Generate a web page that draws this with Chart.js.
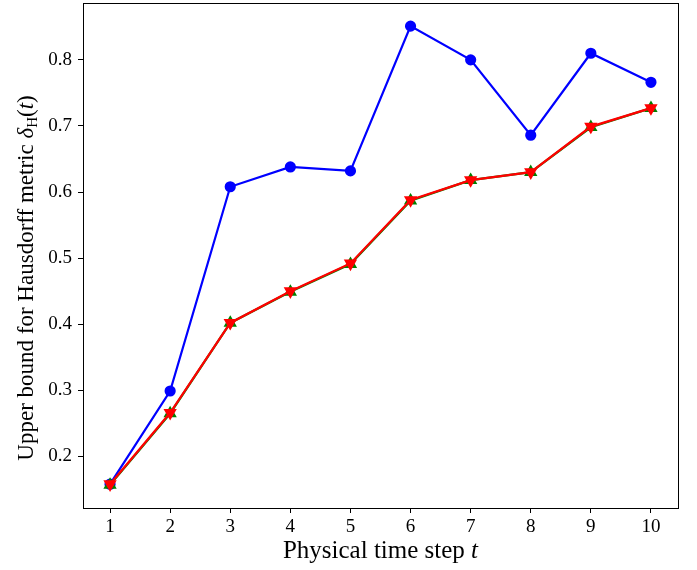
<!DOCTYPE html>
<html>
<head>
<meta charset="utf-8">
<script src="https://cdn.jsdelivr.net/npm/chart.js@4/dist/chart.umd.min.js"></script>
<style>
  html, body { margin: 0; padding: 0; background: #fff; }
  #wrap { width: 697px; height: 570px; }
</style>
</head>
<body>
<div id="wrap"><canvas id="chart"></canvas></div>
<script>
// ---- data ----
const steps = [1, 2, 3, 4, 5, 6, 7, 8, 9, 10];
const blueVals  = [0.158, 0.299, 0.608, 0.638, 0.632, 0.851, 0.800, 0.686, 0.810, 0.766];
const greenVals = [0.157, 0.265, 0.402, 0.449, 0.491, 0.587, 0.618, 0.630, 0.698, 0.727];
const redVals   = [0.158, 0.266, 0.402, 0.450, 0.492, 0.588, 0.618, 0.630, 0.699, 0.727];
const xTicks = [1, 2, 3, 4, 5, 6, 7, 8, 9, 10];
const yTicks = [0.2, 0.3, 0.4, 0.5, 0.6, 0.7, 0.8];

const SERIF = '"Liberation Serif", "DejaVu Serif", serif';

function pts(vals){ return steps.map((s, i) => ({ x: s, y: vals[i] })); }

// frame around the plot area (matplotlib style box)
const framePlugin = {
  id: 'frame',
  afterDraw(chart){
    const { ctx, chartArea: a } = chart;
    ctx.save();
    ctx.strokeStyle = '#000';
    ctx.lineWidth = 1;
    ctx.strokeRect(Math.round(a.left) + 0.5, Math.round(a.top) + 0.5,
      Math.round(a.right - a.left), Math.round(a.bottom - a.top));
    ctx.restore();
  }
};

// axis titles with italic / subscript pieces
function drawRuns(ctx, runs, x, y){
  // measure total width first, then draw centred
  let total = 0;
  runs.forEach(r => { ctx.font = r.font; total += ctx.measureText(r.text).width; });
  let cx = x - total / 2;
  runs.forEach(r => {
    ctx.font = r.font;
    ctx.fillText(r.text, cx, y + (r.dy || 0));
    cx += ctx.measureText(r.text).width;
  });
}

const titlePlugin = {
  id: 'axisTitles',
  afterDraw(chart){
    const { ctx, chartArea: a } = chart;
    const up = '23px ' + SERIF, it = 'italic 23px ' + SERIF, sub = '15px ' + SERIF;
    const upX = '25px ' + SERIF, itX = 'italic 25px ' + SERIF;
    ctx.save();
    ctx.fillStyle = '#000';
    ctx.textBaseline = 'alphabetic';
    drawRuns(ctx, [
      { text: 'Physical time step ', font: upX },
      { text: 't', font: itX }
    ], (a.left + a.right) / 2, 558);

    ctx.translate(33, 278);
    ctx.rotate(-Math.PI / 2);
    drawRuns(ctx, [
      { text: 'Upper bound for Hausdorff metric ', font: up },
      { text: 'δ', font: it },
      { text: 'H', font: sub, dy: 4 },
      { text: '(', font: up },
      { text: 't', font: it },
      { text: ')', font: up }
    ], 0, 0);
    ctx.restore();
  }
};

function noPad(s){
  s.paddingTop = 0; s.paddingBottom = 0; s.paddingLeft = 0; s.paddingRight = 0;
}

const ctx = document.getElementById('chart').getContext('2d');
new Chart(ctx, {
  type: 'line',
  data: {
    datasets: [
      { data: pts(blueVals), borderColor: '#0000ff', backgroundColor: '#0000ff',
        borderWidth: 2.2, pointStyle: 'circle', pointRadius: 4.5, order: 3 },
      { data: pts(greenVals), borderColor: '#008000', backgroundColor: '#008000',
        borderWidth: 2.2, pointStyle: 'triangle', pointRadius: 5.5, order: 2 },
      { data: pts(redVals), borderColor: '#ff0000', backgroundColor: '#ff0000',
        borderWidth: 2.2, pointStyle: 'triangle', pointRotation: 180, pointRadius: 5.5, order: 1 }
    ]
  },
  options: {
    responsive: true,
    maintainAspectRatio: false,
    animation: false,
    layout: { autoPadding: false, padding: { top: 3, right: 19, left: 0, bottom: 0 } },
    plugins: { legend: { display: false }, tooltip: { enabled: false } },
    elements: { line: { tension: 0 }, point: { borderWidth: 0, hoverRadius: 5 } },
    scales: {
      x: {
        type: 'linear', min: 0.55, max: 10.45,
        afterBuildTicks: s => { s.ticks = xTicks.map(v => ({ value: v })); },
        afterFit: s => { s.height = 62; noPad(s); },
        grid: { drawOnChartArea: false, drawTicks: true, tickLength: 5, color: '#000' },
        border: { display: true, color: '#000', width: 1 },
        ticks: { color: '#000', font: { family: SERIF, size: 19 }, padding: 3, maxRotation: 0,
          callback: v => String(v) }
      },
      y: {
        type: 'linear', min: 0.122, max: 0.886,
        afterBuildTicks: s => { s.ticks = yTicks.map(v => ({ value: v })); },
        afterFit: s => { s.width = 83; noPad(s); },
        grid: { drawOnChartArea: false, drawTicks: true, tickLength: 5, color: '#000' },
        border: { display: true, color: '#000', width: 1 },
        ticks: { color: '#000', font: { family: SERIF, size: 19 }, padding: 6,
          callback: v => v.toFixed(1) }
      }
    }
  },
  plugins: [framePlugin, titlePlugin]
});
</script>
</body>
</html>
